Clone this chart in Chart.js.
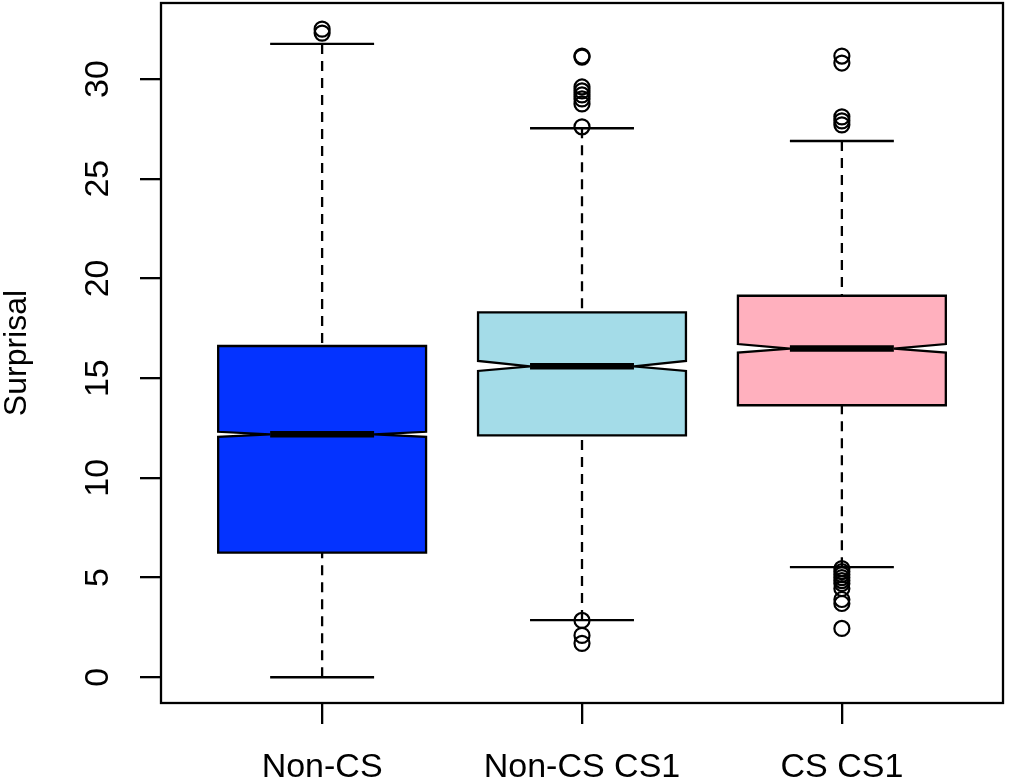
<!DOCTYPE html>
<html>
<head>
<meta charset="utf-8">
<script src="https://cdn.jsdelivr.net/npm/chart.js@4/dist/chart.umd.min.js"></script>
<style>
html,body{margin:0;padding:0;background:#fff;}
#wrap{width:1009px;height:783px;position:relative;}
</style>
</head>
<body>
<div id="wrap"><canvas id="c"></canvas></div>
<script>
// ---- data ----
const categories = ['Non-CS', 'Non-CS CS1', 'CS CS1'];
const positions = [1, 2, 3];
const lowerWhisker = [0.0, 2.87, 5.52];
const lowerQuartile = [6.25, 12.13, 13.64];
const medians = [12.18, 15.59, 16.48];
const upperQuartile = [16.61, 18.30, 19.13];
const upperWhisker = [31.76, 27.53, 26.89];
const notchLow = [12.06, 15.36, 16.28];
const notchHigh = [12.31, 15.86, 16.71];
const outliersNonCS = [32.3, 32.5];
const outliersNonCSCS1 = [31.15, 31.1, 29.6, 29.4, 29.2, 29.0, 28.75, 27.6, 2.85, 2.1, 1.7];
const outliersCSCS1 = [31.15, 30.8, 28.1, 27.9, 27.7, 5.45, 5.3, 5.15, 5.0, 4.85, 4.7, 4.45, 3.9, 3.7, 2.45];
const yTicks = [0, 5, 10, 15, 20, 25, 30];
const yAxisTitle = 'Surprisal';

const fillColors = ['#0433ff', '#a4dce8', '#ffb0be'];
const allOutliers = [outliersNonCS, outliersNonCSCS1, outliersCSCS1];
const outlierPoints = [];
allOutliers.forEach((arr, i) => arr.forEach(v => outlierPoints.push({x: positions[i], y: v})));

const FONT = "'Liberation Sans', Arial, Helvetica, sans-serif";

const boxPlugin = {
  id: 'notchedBoxes',
  beforeDatasetsDraw(chart) {
    const {ctx, scales: {x, y}} = chart;
    const hw = 0.4, capHw = 0.2;
    ctx.save();
    ctx.strokeStyle = '#000';
    positions.forEach((p, i) => {
      const xl = x.getPixelForValue(p - hw), xr = x.getPixelForValue(p + hw);
      const xc = x.getPixelForValue(p);
      const xnl = x.getPixelForValue(p - hw / 2), xnr = x.getPixelForValue(p + hw / 2);
      const xcl = x.getPixelForValue(p - capHw), xcr = x.getPixelForValue(p + capHw);
      const ywl = y.getPixelForValue(lowerWhisker[i]);
      const ywh = y.getPixelForValue(upperWhisker[i]);
      const yq1 = y.getPixelForValue(lowerQuartile[i]);
      const yq3 = y.getPixelForValue(upperQuartile[i]);
      const ym = y.getPixelForValue(medians[i]);
      const ynl = y.getPixelForValue(notchLow[i]);
      const ynh = y.getPixelForValue(notchHigh[i]);
      // whiskers (dashed)
      ctx.lineWidth = 2.3;
      ctx.setLineDash([10, 7]);
      ctx.beginPath();
      ctx.moveTo(xc, ywl); ctx.lineTo(xc, yq1);
      ctx.moveTo(xc, ywh); ctx.lineTo(xc, yq3);
      ctx.stroke();
      ctx.setLineDash([]);
      // staples
      ctx.beginPath();
      ctx.moveTo(xcl, ywl); ctx.lineTo(xcr, ywl);
      ctx.moveTo(xcl, ywh); ctx.lineTo(xcr, ywh);
      ctx.stroke();
      // notched box
      ctx.beginPath();
      ctx.moveTo(xl, yq3); ctx.lineTo(xr, yq3); ctx.lineTo(xr, ynh);
      ctx.lineTo(xnr, ym); ctx.lineTo(xr, ynl); ctx.lineTo(xr, yq1);
      ctx.lineTo(xl, yq1); ctx.lineTo(xl, ynl); ctx.lineTo(xnl, ym);
      ctx.lineTo(xl, ynh); ctx.closePath();
      ctx.fillStyle = fillColors[i];
      ctx.fill();
      ctx.lineJoin = 'miter';
      ctx.stroke();
      // median
      ctx.lineWidth = 6.5;
      ctx.lineCap = 'butt';
      ctx.beginPath();
      ctx.moveTo(xnl, ym); ctx.lineTo(xnr, ym);
      ctx.stroke();
    });
    ctx.restore();
  },
  afterDraw(chart) {
    const {ctx, chartArea: a} = chart;
    ctx.save();
    ctx.strokeStyle = '#000';
    ctx.lineWidth = 2.3;
    ctx.strokeRect(a.left, a.top, a.right - a.left, a.bottom - a.top);
    ctx.restore();
  }
};

new Chart(document.getElementById('c'), {
  type: 'scatter',
  data: {
    datasets: [{
      data: outlierPoints,
      pointRadius: 7.5,
      pointHoverRadius: 7.5,
      pointBorderWidth: 2.2,
      borderColor: '#000',
      backgroundColor: 'rgba(0,0,0,0)',
      pointStyle: 'circle',
      clip: false
    }]
  },
  options: {
    responsive: true,
    maintainAspectRatio: false,
    animation: false,
    events: [],
    layout: {autoPadding: false, padding: {left: 0, right: 6, top: 3, bottom: 0}},
    plugins: {legend: {display: false}, tooltip: {enabled: false}},
    scales: {
      x: {
        type: 'linear', position: 'bottom', min: 0.38, max: 3.62,
        afterBuildTicks: s => { s.ticks = positions.map(v => ({value: v})); },
        afterFit: s => { s.height = 80; s.paddingLeft = 0; s.paddingRight = 0; },
        grid: {drawOnChartArea: false, drawTicks: true, tickLength: 21, color: '#000', lineWidth: 2.3},
        border: {display: false},
        ticks: {
          font: {family: FONT, size: 34}, color: '#000', padding: 23,
          minRotation: 0, maxRotation: 0, autoSkip: false,
          callback: (v, idx) => categories[idx]
        }
      },
      y: {
        type: 'linear', position: 'left', min: -1.29, max: 33.81,
        afterBuildTicks: s => { s.ticks = yTicks.map(v => ({value: v})); },
        afterFit: s => { s.width = 161; s.paddingTop = 0; s.paddingBottom = 0; },
        grid: {drawOnChartArea: false, drawTicks: true, tickLength: 21, color: '#000', lineWidth: 2.3},
        border: {display: false},
        ticks: {
          font: {family: FONT, size: 34}, color: '#000', padding: 22,
          minRotation: 90, maxRotation: 90, crossAlign: 'center', autoSkip: false
        },
        title: {
          display: true, text: yAxisTitle, color: '#000',
          font: {family: FONT, size: 32, lineHeight: 1}, padding: {top: 1, bottom: 0}
        }
      }
    }
  },
  plugins: [boxPlugin]
});
</script>
</body>
</html>
